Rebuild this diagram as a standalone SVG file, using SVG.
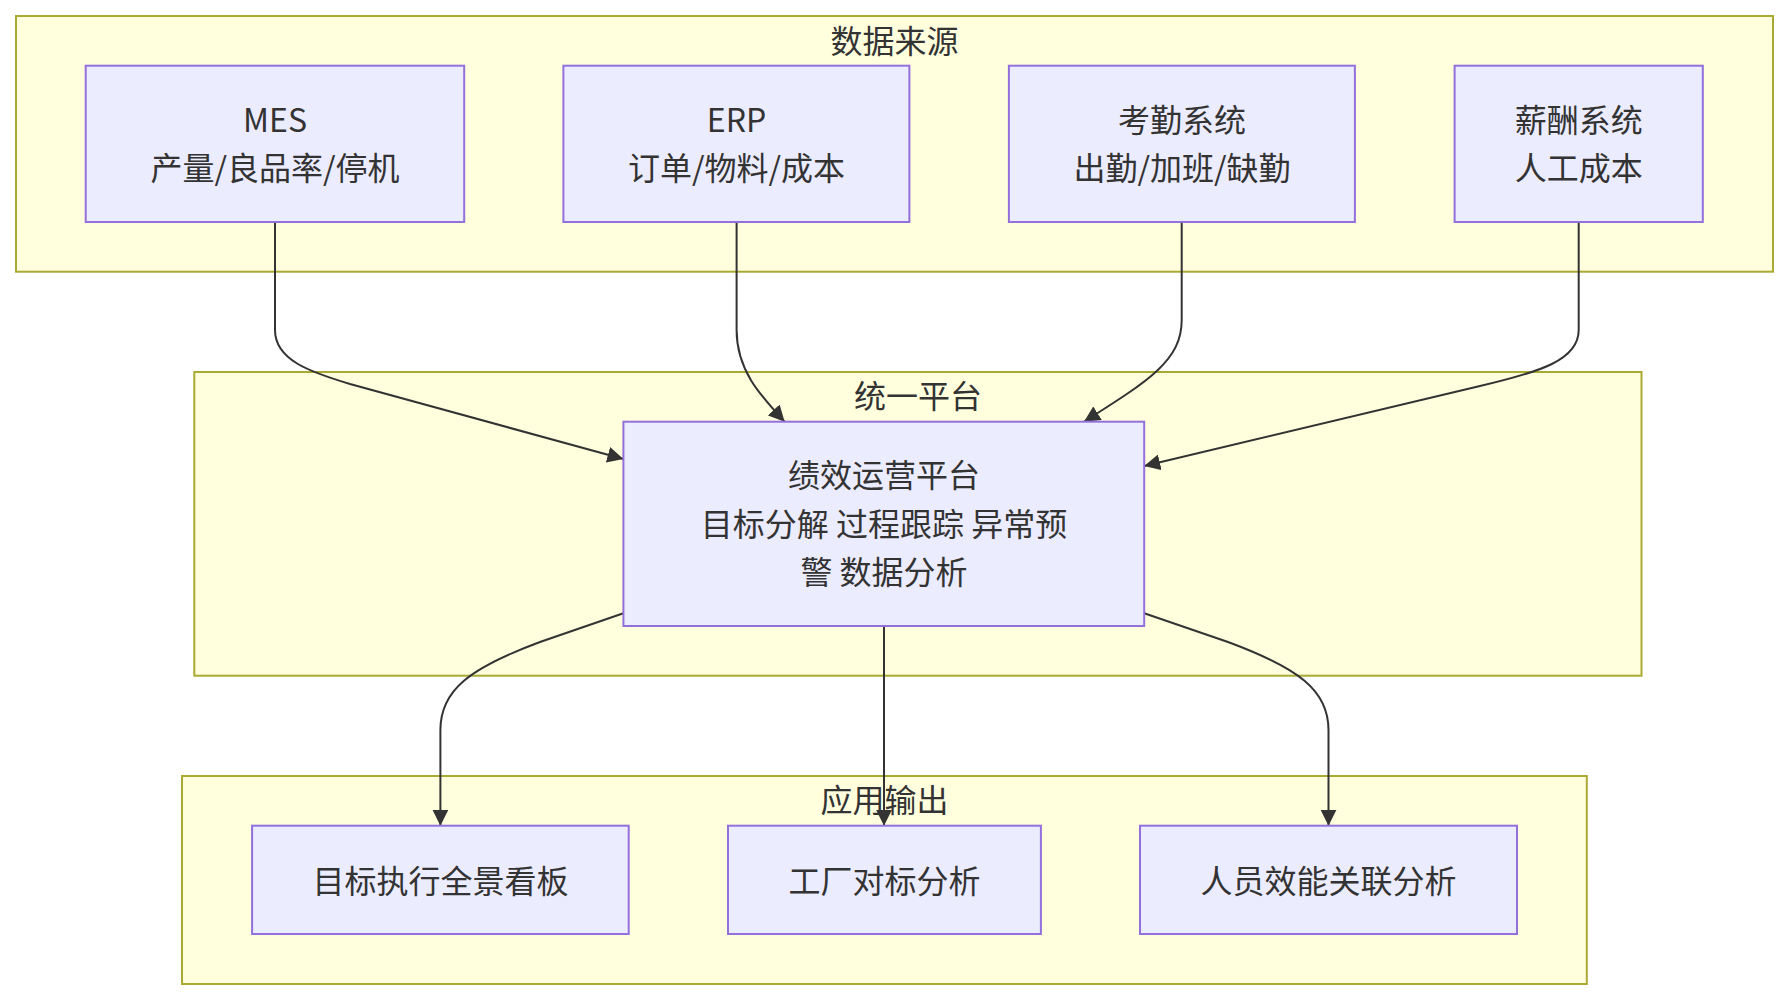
<svg xmlns="http://www.w3.org/2000/svg" width="1788" height="1000" viewBox="0 0 1788 1000">
<style>
.cluster{fill:#ffffde;stroke:#aaaa33;stroke-width:2}
.node{fill:#ececff;stroke:#9370db;stroke-width:2}
.t{font-family:"Noto Sans CJK SC","Noto Sans",sans-serif;font-size:32px;fill:#333;text-anchor:middle}
.edge{fill:none;stroke:#333;stroke-width:2}
</style>
<defs>
<marker id="arrow" viewBox="0 0 10 10" refX="10" refY="5" markerUnits="userSpaceOnUse" markerWidth="16" markerHeight="16" orient="auto">
<path d="M0,0 L10,5 L0,10 z" fill="#333"/>
</marker>
</defs>
<rect width="1788" height="1000" fill="#ffffff"/>
<g id="cluster-sources">
<rect class="cluster" x="16" y="16" width="1757" height="255.7"/>
<text class="t" x="894.5" y="52.5">数据来源</text>
</g>
<g id="cluster-platform">
<rect class="cluster" x="194.3" y="372" width="1447.2" height="303.7"/>
<text class="t" x="918" y="407.5">统一平台</text>
</g>
<g id="cluster-output">
<rect class="cluster" x="182" y="776" width="1404.8" height="208"/>
<text class="t" x="884.5" y="812">应用输出</text>
</g>
<g id="edges">
<path class="edge" d="M275,222 L275,330 C275,360 310,372 350,384 L623.4,459" marker-end="url(#arrow)"/>
<path class="edge" d="M736.6,222 L736.6,330 C736.6,370 760,395 784.6,421.7" marker-end="url(#arrow)"/>
<path class="edge" d="M1181.7,222 L1181.7,320 C1181.7,360 1150,380 1084,421.7" marker-end="url(#arrow)"/>
<path class="edge" d="M1578.7,222 L1578.7,330 C1578.7,360 1540,372 1480,386 L1144.2,466" marker-end="url(#arrow)"/>
<path class="edge" d="M623.4,613.3 L540,642 C470,668 440.4,690 440.4,730 L440.4,825.7" marker-end="url(#arrow)"/>
<path class="edge" d="M884,626 L884,825.7" marker-end="url(#arrow)"/>
<path class="edge" d="M1144.2,613.3 L1228,642 C1298,668 1328.5,690 1328.5,730 L1328.5,825.7" marker-end="url(#arrow)"/>
</g>
<g id="node-mes">
<rect class="node" x="85.7" y="65.7" width="378.5" height="156.3"/>
<text class="t" x="275" y="131.5">MES</text>
<text class="t" x="275" y="179.5">产量/良品率/停机</text>
</g>
<g id="node-erp">
<rect class="node" x="563.4" y="65.7" width="346" height="156.3"/>
<text class="t" x="736.5" y="131.5">ERP</text>
<text class="t" x="736.5" y="179.5">订单/物料/成本</text>
</g>
<g id="node-attendance">
<rect class="node" x="1008.9" y="65.7" width="346" height="156.3"/>
<text class="t" x="1182" y="131.5">考勤系统</text>
<text class="t" x="1182" y="179.5">出勤/加班/缺勤</text>
</g>
<g id="node-payroll">
<rect class="node" x="1454.6" y="65.7" width="248.2" height="156.3"/>
<text class="t" x="1578.7" y="131.5">薪酬系统</text>
<text class="t" x="1578.7" y="179.5">人工成本</text>
</g>
<g id="node-platform">
<rect class="node" x="623.4" y="421.7" width="520.8" height="204.3"/>
<text class="t" x="884" y="486.5">绩效运营平台</text>
<text class="t" x="884" y="536">目标分解 过程跟踪 异常预</text>
<text class="t" x="884" y="584">警 数据分析</text>
</g>
<g id="node-dashboard">
<rect class="node" x="252.1" y="825.7" width="376.6" height="108.3"/>
<text class="t" x="440.4" y="893">目标执行全景看板</text>
</g>
<g id="node-benchmark">
<rect class="node" x="728" y="825.7" width="312.9" height="108.3"/>
<text class="t" x="884.4" y="893">工厂对标分析</text>
</g>
<g id="node-people">
<rect class="node" x="1140" y="825.7" width="377" height="108.3"/>
<text class="t" x="1328.5" y="893">人员效能关联分析</text>
</g>
</svg>
